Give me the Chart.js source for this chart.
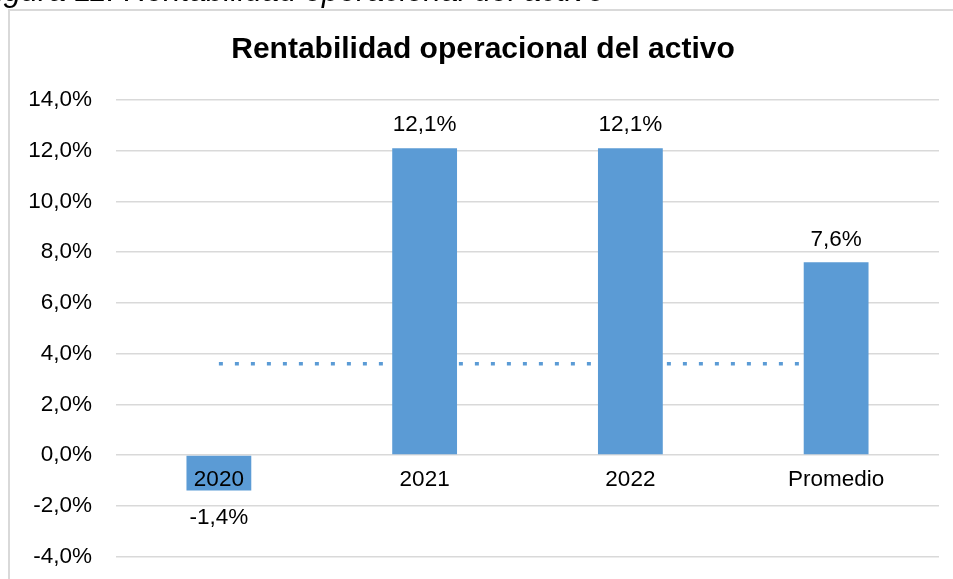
<!DOCTYPE html>
<html>
<head>
<meta charset="utf-8">
<script src="https://cdn.jsdelivr.net/npm/chart.js@4/dist/chart.umd.min.js"></script>
<style>
    html, body { margin: 0; padding: 0; background: #ffffff; overflow: hidden; }
    #wrap { position: relative; width: 953px; height: 579px; overflow: hidden; }
    #frame { position: absolute; left: 8px; top: 9px; width: 1000px; height: 1000px; border: 2px solid #d9d9d9; box-sizing: border-box; }
    canvas { position: absolute; left: 0; top: 0; }
</style>
</head>
<body>
<div id="wrap">
    <div id="frame"></div>
    <!-- taller than the window: the x axis sits at zero but still takes room at the bottom -->
    <canvas id="chart" width="953" height="594"></canvas>
</div>
<script>
const categories = ['2020', '2021', '2022', 'Promedio'];
const returns = [-1.4, 12.1, 12.1, 7.6];
const dottedLine = [3.6, 3.6, 3.6, 3.6];
const yTicks = [-4, -2, 0, 2, 4, 6, 8, 10, 12, 14];

const COLORS = {
    bar: '#5B9BD5',
    grid: '#d9d9d9',
    text: '#000000',
};

const FONT = '"Liberation Sans", Arial, sans-serif';
const TICK_SIZE = 22.5;

function pct(value) {
    return value.toFixed(1).replace('.', ',') + '%';
}

const textPlugin = {
    id: 'textPlugin',
    afterDatasetsDraw(chart) {
        const ctx = chart.ctx;
        const meta = chart.getDatasetMeta(1);

        ctx.save();
        ctx.fillStyle = COLORS.text;
        ctx.font = TICK_SIZE + 'px ' + FONT;
        ctx.textAlign = 'center';
        ctx.textBaseline = 'middle';
        meta.data.forEach((bar, i) => {
            const value = returns[i];
            const y = value >= 0 ? bar.y - 23 : bar.y + 27;
            ctx.fillText(pct(value), bar.x, y);
        });
        ctx.restore();
    },
    afterDraw(chart) {
        const ctx = chart.ctx;

        ctx.save();
        ctx.fillStyle = COLORS.text;
        ctx.textAlign = 'center';
        ctx.textBaseline = 'alphabetic';
        ctx.font = 'bold 30px ' + FONT;
        ctx.fillText('Rentabilidad operacional del activo', 483, 58);

        ctx.textAlign = 'left';
        ctx.font = 'italic 31px ' + FONT;
        ctx.fillText('Figura 11: Rentabilidad operacional del activo', -22, 1);
        ctx.restore();
    },
};

new Chart(document.getElementById('chart'), {
    data: {
        labels: categories,
        datasets: [
            {
                type: 'line',
                data: dottedLine,
                borderColor: COLORS.bar,
                borderWidth: 3.5,
                borderDash: [4, 12],
                borderCapStyle: 'butt',
                pointRadius: 0,
                fill: false,
                order: 2,
            },
            {
                type: 'bar',
                data: returns,
                backgroundColor: COLORS.bar,
                barPercentage: 1,
                categoryPercentage: 0.315,
                order: 1,
            },
        ],
    },
    options: {
        responsive: false,
        animation: false,
        devicePixelRatio: 1,
        layout: {
            padding: { left: 8, right: 14, top: 100, bottom: 8 },
        },
        plugins: {
            legend: { display: false },
            title: { display: false },
            tooltip: { enabled: false },
        },
        scales: {
            x: {
                position: { y: 0 },
                grid: { display: false, drawTicks: false },
                border: { display: false },
                ticks: {
                    z: 1,
                    padding: 11,
                    color: COLORS.text,
                    font: { family: FONT, size: TICK_SIZE },
                    maxRotation: 0,
                },
            },
            y: {
                min: -4,
                max: 14,
                afterBuildTicks(scale) {
                    scale.ticks = yTicks.map((v) => ({ value: v }));
                },
                afterFit(scale) {
                    scale.width = 108;
                },
                grid: { color: COLORS.grid, lineWidth: 1.5, drawTicks: false },
                border: { display: false },
                ticks: {
                    padding: 24,
                    color: COLORS.text,
                    font: { family: FONT, size: TICK_SIZE },
                    callback(value) {
                        return pct(value);
                    },
                },
            },
        },
    },
    plugins: [textPlugin],
});
</script>
</body>
</html>
